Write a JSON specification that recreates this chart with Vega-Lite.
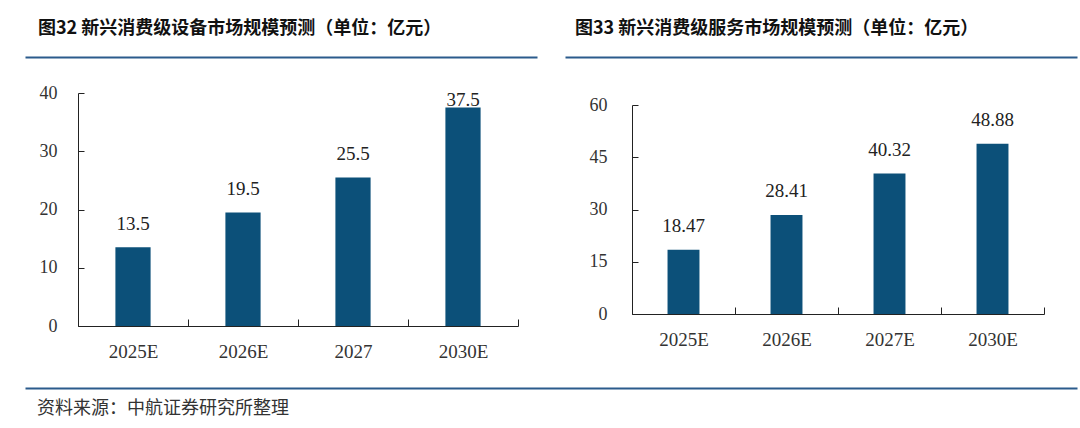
{
  "$schema": "https://vega.github.io/schema/vega-lite/v6.json",
  "padding": {"left": 25, "top": 20, "right": 0, "bottom": 0},
  "background": "white",
  "datasets": {
    "devices": [
      {"year": "2025E", "value": 13.5},
      {"year": "2026E", "value": 19.5},
      {"year": "2027", "value": 25.5},
      {"year": "2030E", "value": 37.5}
    ],
    "services": [
      {"year": "2025E", "value": 18.47},
      {"year": "2026E", "value": 28.41},
      {"year": "2027E", "value": 40.32},
      {"year": "2030E", "value": 48.88}
    ],
    "span": [{"k": 0}, {"k": 1}]
  },
  "config": {
    "view": {"stroke": null},
    "font": "Liberation Serif",
    "axis": {
      "domainColor": "#222222",
      "tickColor": "#222222",
      "labelColor": "#333333",
      "labelFont": "Liberation Serif",
      "grid": false,
      "title": null
    },
    "title": {"font": "Noto Sans CJK SC", "color": "#111111"}
  },
  "spacing": 26,
  "vconcat": [
    {
      "spacing": -25,
      "hconcat": [
        {
          "spacing": 27,
          "vconcat": [
            {
              "title": {"text": "图32 新兴消费级设备市场规模预测（单位：亿元）", "anchor": "start", "frame": "group", "dx": -40, "fontSize": 18, "fontWeight": "bold", "baseline": "bottom", "offset": 0},
              "width": 459,
              "height": 1,
              "data": {"name": "span"},
              "mark": {"type": "rule", "opacity": 0},
              "encoding": {
                "x": {"field": "k", "type": "quantitative", "scale": {"domain": [0, 1], "nice": false, "range": [-53, 459]},
                  "axis": {"orient": "bottom", "labels": false, "ticks": false, "grid": false, "domain": true, "domainColor": "#2B5B8C", "domainWidth": 2}}
              }
            },
            {
              "width": 440,
              "height": 233,
              "data": {"name": "devices"},
              "encoding": {
                "x": {
                  "field": "year", "type": "nominal", "sort": null,
                  "scale": {"paddingInner": 0, "paddingOuter": 0},
                  "axis": {"labelAngle": 0, "tickBand": "extent", "tickSize": -7, "labelPadding": 23, "labelFontSize": 19}
                },
                "y": {
                  "field": "value", "type": "quantitative",
                  "scale": {"domain": [0, 40], "nice": false},
                  "axis": {"values": [0, 10, 20, 30, 40], "tickSize": -6, "labelPadding": 27, "labelFontSize": 18, "minExtent": 53}
                }
              },
              "layer": [
                {"mark": {"type": "bar", "color": "#0C5079", "width": {"band": 0.32}}},
                {
                  "transform": [{"filter": "datum.value <= 35"}],
                  "mark": {"type": "text", "baseline": "middle", "dy": -23, "fontSize": 19, "color": "#222222", "font": "Liberation Serif"},
                  "encoding": {"text": {"field": "value", "type": "quantitative"}}
                },
                {
                  "transform": [{"filter": "datum.value > 35"}],
                  "mark": {"type": "text", "baseline": "middle", "dy": -8, "fontSize": 19, "color": "#222222", "font": "Liberation Serif"},
                  "encoding": {"text": {"field": "value", "type": "quantitative"}}
                }
              ]
            }
          ]
        },
        {
          "spacing": 39,
          "vconcat": [
            {
              "title": {"text": "图33 新兴消费级服务市场规模预测（单位：亿元）", "anchor": "start", "frame": "group", "dx": -57, "fontSize": 18, "fontWeight": "bold", "baseline": "bottom", "offset": 0},
              "width": 445,
              "height": 1,
              "data": {"name": "span"},
              "mark": {"type": "rule", "opacity": 0},
              "encoding": {
                "x": {"field": "k", "type": "quantitative", "scale": {"domain": [0, 1], "nice": false, "range": [-67, 445]},
                  "axis": {"orient": "bottom", "labels": false, "ticks": false, "grid": false, "domain": true, "domainColor": "#2B5B8C", "domainWidth": 2}}
              }
            },
            {
              "width": 412,
              "height": 209,
              "data": {"name": "services"},
              "encoding": {
                "x": {
                  "field": "year", "type": "nominal", "sort": null,
                  "scale": {"paddingInner": 0, "paddingOuter": 0},
                  "axis": {"labelAngle": 0, "tickBand": "extent", "tickSize": -7, "labelPadding": 23, "labelFontSize": 19}
                },
                "y": {
                  "field": "value", "type": "quantitative",
                  "scale": {"domain": [0, 60], "nice": false},
                  "axis": {"values": [0, 15, 30, 45, 60], "tickSize": -6, "labelPadding": 31, "labelFontSize": 18, "minExtent": 67}
                }
              },
              "layer": [
                {"mark": {"type": "bar", "color": "#0C5079", "width": {"band": 0.31}}},
                {
                  "mark": {"type": "text", "baseline": "middle", "dy": -24, "fontSize": 19, "color": "#222222", "font": "Liberation Serif"},
                  "encoding": {"text": {"field": "value", "type": "quantitative"}}
                }
              ]
            }
          ]
        }
      ]
    },
    {
      "title": {"text": "资料来源：中航证券研究所整理", "orient": "bottom", "anchor": "start", "frame": "group", "dx": -41, "fontSize": 18, "fontWeight": "normal", "baseline": "top", "offset": 12, "color": "#333333"},
      "width": 999,
      "height": 1,
      "data": {"name": "span"},
      "mark": {"type": "rule", "opacity": 0},
      "encoding": {
        "x": {"field": "k", "type": "quantitative", "scale": {"domain": [0, 1], "nice": false, "range": [-53, 999]},
          "axis": {"orient": "bottom", "labels": false, "ticks": false, "grid": false, "domain": true, "domainColor": "#2B5B8C", "domainWidth": 2}}
      }
    }
  ]
}
